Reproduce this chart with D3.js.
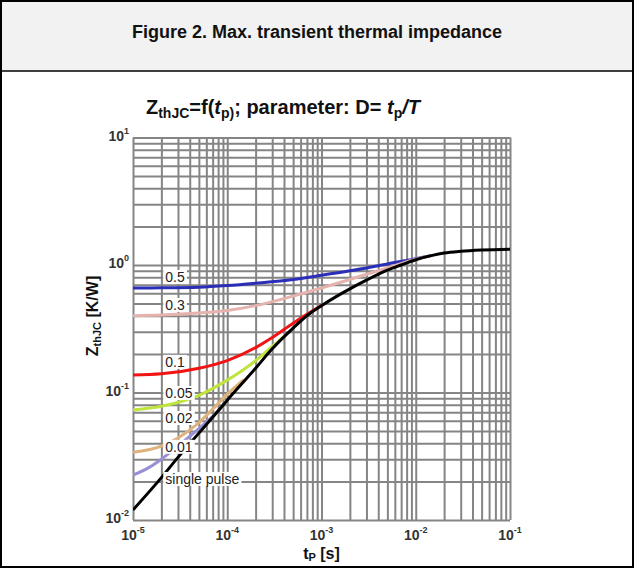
<!DOCTYPE html>
<html><head><meta charset="utf-8">
<script src="https://cdn.jsdelivr.net/npm/d3@7"></script>
<style>body{margin:0;background:#fff}svg{display:block;font-family:Arial,"Liberation Sans",sans-serif}</style>
</head><body><svg id="c" width="634" height="568"></svg>
<script>
// ---- data ----
const xDecades = [1e-5, 1e-4, 1e-3, 1e-2, 1e-1];
const xExponents = ["-5", "-4", "-3", "-2", "-1"];
const yDecades = [1e-2, 1e-1, 1, 10];
const yExponents = ["-2", "-1", "0", "1"];
const seriesNames = ["0.5", "0.3", "0.1", "0.05", "0.02", "0.01", "single pulse"];
const seriesColors = ["#2b2fb8", "#e6b2ae", "#f01414", "#bfe43c", "#deb27c", "#9790d6", "#000000"];
// [tp (s), ZthJC (K/W)]
const d05 = [[1e-5,0.66],[2e-5,0.662],[5e-5,0.67],[1e-4,0.69],[2e-4,0.72],[5e-4,0.77],[1e-3,0.83],[2e-3,0.90],[5e-3,1.02],[1e-2,1.12],[1.5e-2,1.19]];
const d03 = [[1e-5,0.40],[2e-5,0.405],[5e-5,0.42],[1e-4,0.44],[2e-4,0.48],[5e-4,0.57],[1e-3,0.66],[2e-3,0.77],[5e-3,0.95],[1e-2,1.11],[1.5e-2,1.19]];
const d01 = [[1e-5,0.137],[2e-5,0.14],[5e-5,0.155],[1e-4,0.178],[2e-4,0.225],[3e-4,0.27],[5e-4,0.35],[7e-4,0.41],[1e-3,0.48]];
const d005 = [[1e-5,0.073],[2e-5,0.078],[5e-5,0.095],[1e-4,0.125],[2e-4,0.178],[3e-4,0.23],[4e-4,0.275]];
const d002 = [[1e-5,0.034],[2e-5,0.038],[3e-5,0.044],[5e-5,0.058],[7e-5,0.074],[1e-4,0.097],[1.5e-4,0.126]];
const d001 = [[1e-5,0.0225],[1.5e-5,0.026],[2e-5,0.030],[3e-5,0.038],[5e-5,0.052],[7e-5,0.065],[8.5e-5,0.075]];
const dSingle = [[1e-5,0.012],[2e-5,0.0215],[3e-5,0.031],[5e-5,0.048],[7e-5,0.064],[1e-4,0.087],[2e-4,0.155],[3e-4,0.22],[5e-4,0.32],[7e-4,0.40],[1e-3,0.48],[2e-3,0.65],[3e-3,0.76],[5e-3,0.91],[7e-3,1.0],[1e-2,1.1],[1.5e-2,1.19],[2e-2,1.24],[3e-2,1.28],[5e-2,1.31],[1e-1,1.33]];
const labelTp = 2.2e-5;
const labelZ = [0.805, 0.486, 0.174, 0.099, 0.0631, 0.0375, 0.021];

// ---- layout ----
const W = 634, H = 568;
const L = 133, R = 510, T = 137.5, B = 520;
const svg = d3.select("#c");
svg.append("rect").attr("x",1).attr("y",1).attr("width",W-2).attr("height",70).attr("fill","#f2f2f2");
svg.append("rect").attr("x",1).attr("y",1).attr("width",W-2).attr("height",H-2).attr("fill","none").attr("stroke","#000").attr("stroke-width",2);
svg.append("line").attr("x1",1).attr("x2",W-1).attr("y1",71).attr("y2",71).attr("stroke","#000").attr("stroke-width",1.5);
svg.append("text").attr("x",W/2).attr("y",38).attr("text-anchor","middle").attr("font-size",18).attr("font-weight","bold").attr("fill","#111")
  .text("Figure 2. Max. transient thermal impedance");

// subtitle
const st = svg.append("text").attr("x",283).attr("y",114).attr("text-anchor","middle").attr("font-size",20).attr("font-weight","bold").attr("fill","#111");
st.append("tspan").text("Z");
st.append("tspan").attr("font-size",14).attr("dy",4).text("thJC");
st.append("tspan").attr("dy",-4).text("=f(");
st.append("tspan").attr("font-style","italic").text("t");
st.append("tspan").attr("font-size",14).attr("dy",4).text("p)");
st.append("tspan").attr("dy",-4).text("; parameter: D= ");
st.append("tspan").attr("font-style","italic").text("t");
st.append("tspan").attr("font-size",14).attr("dy",4).text("p");
st.append("tspan").attr("dy",-4).attr("font-style","italic").text("/T");

const x = d3.scaleLog().domain([xDecades[0], xDecades[xDecades.length-1]]).range([L, R]);
const y = d3.scaleLog().domain([yDecades[0], yDecades[yDecades.length-1]]).range([B, T]);

// grid via axes
const gx = svg.append("g").attr("transform",`translate(0,${B})`)
  .call(d3.axisBottom(x).tickValues(x.ticks()).tickSize(-(B-T)).tickFormat(""));
const gy = svg.append("g").attr("transform",`translate(${L},0)`)
  .call(d3.axisLeft(y).tickValues(y.ticks()).tickSize(-(R-L)).tickFormat(""));
[gx, gy].forEach(g => {
  g.select(".domain").remove();
  g.selectAll(".tick line").attr("stroke","#858585").attr("stroke-width",2);
});

// tick labels
xDecades.forEach((v,i) => {
  const t = svg.append("text").attr("x",x(v)).attr("y",540).attr("text-anchor","middle")
    .attr("font-size",14).attr("font-weight","bold").attr("fill","#333");
  t.append("tspan").text("10");
  t.append("tspan").attr("font-size",9).attr("dy",-7).text(xExponents[i]);
});
yDecades.forEach((v,i) => {
  const t = svg.append("text").attr("x",L-4).attr("y",y(v)+3).attr("text-anchor","end")
    .attr("font-size",14).attr("font-weight","bold").attr("fill","#333");
  t.append("tspan").text("10");
  t.append("tspan").attr("font-size",9).attr("dy",-7).text(yExponents[i]);
});

// axis titles
const xt = svg.append("text").attr("x",x(1e-3)).attr("y",559).attr("text-anchor","middle").attr("font-size",16).attr("font-weight","bold").attr("fill","#111");
xt.append("tspan").text("t");
xt.append("tspan").attr("font-size",11).attr("dy",2).text("P");
xt.append("tspan").attr("dy",-2).text(" [s]");
const yt = svg.append("text").attr("transform",`translate(98,${316}) rotate(-90)`).attr("text-anchor","middle").attr("font-size",16).attr("font-weight","bold").attr("fill","#111");
yt.append("tspan").text("Z");
yt.append("tspan").attr("font-size",11).attr("dy",3).text("thJC");
yt.append("tspan").attr("dy",-3).text(" [K/W]");

// curves
svg.append("clipPath").attr("id","clip").append("rect").attr("x",L).attr("y",T).attr("width",R-L).attr("height",B-T);
const line = d3.line().x(d=>x(d[0])).y(d=>y(d[1])).curve(d3.curveMonotoneX);
const allSeries = [d05, d03, d01, d005, d002, d001, dSingle];
const cg = svg.append("g").attr("clip-path","url(#clip)");
allSeries.forEach((s,i) => {
  cg.append("path").datum(s).attr("d",line).attr("fill","none")
    .attr("stroke",seriesColors[i]).attr("stroke-width",3).attr("stroke-linecap","butt");
});

// labels with white boxes
seriesNames.forEach((n,i) => {
  const g = svg.append("g");
  const t = g.append("text").attr("x",x(labelTp)).attr("y",y(labelZ[i])+5)
    .attr("font-size",14).attr("fill","#222").text(n);
  const bb = t.node().getBBox();
  g.insert("rect","text").attr("x",bb.x-2).attr("y",bb.y+1).attr("width",bb.width+4).attr("height",bb.height-2).attr("fill","#fff");
});
</script></body></html>
